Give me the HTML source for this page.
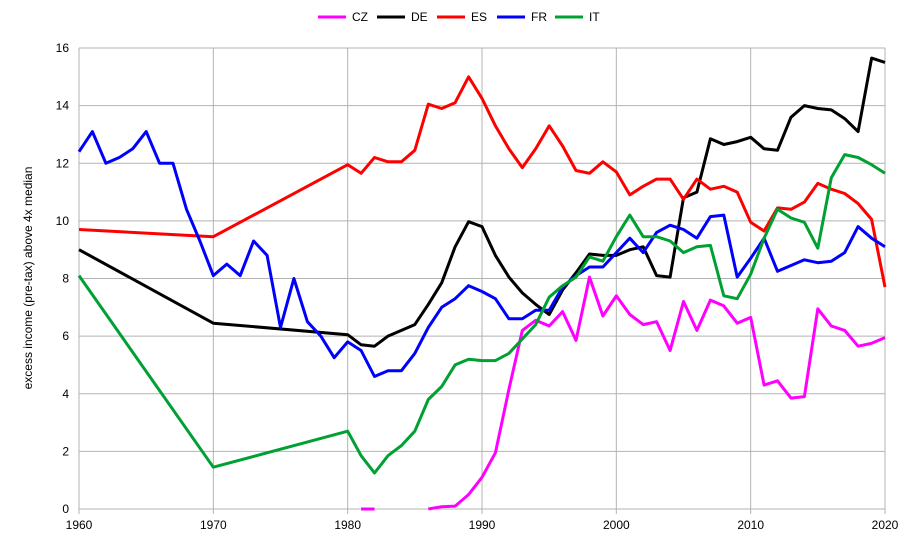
<!DOCTYPE html>
<html><head><meta charset="utf-8"><style>
body{margin:0;background:#fff;font-family:"Liberation Sans",sans-serif}
svg text{font-family:"Liberation Sans",sans-serif;fill:#000}
</style></head><body>
<svg id="chart" width="918" height="545" xmlns="http://www.w3.org/2000/svg">
<g id="grid"></g>
<g id="series"></g>
<g id="legend"></g>
<text transform="translate(32,278) rotate(-90)" text-anchor="middle" font-size="12">excess income (pre-tax) above 4x median</text>
</svg>
<script>
const years = [1960,1961,1962,1963,1964,1965,1966,1967,1968,1969,1970,1971,1972,1973,1974,1975,1976,1977,1978,1979,1980,1981,1982,1983,1984,1985,1986,1987,1988,1989,1990,1991,1992,1993,1994,1995,1996,1997,1998,1999,2000,2001,2002,2003,2004,2005,2006,2007,2008,2009,2010,2011,2012,2013,2014,2015,2016,2017,2018,2019,2020];
const N=null;
const cz = [N,N,N,N,N,N,N,N,N,N,N,N,N,N,N,N,N,N,N,N,N,0,0,N,N,N,0,0.08,0.1,0.5,1.1,1.95,4.15,6.2,6.55,6.35,6.85,5.85,8.05,6.7,7.4,6.75,6.4,6.5,5.5,7.2,6.2,7.25,7.05,6.45,6.65,4.3,4.45,3.85,3.9,6.95,6.35,6.2,5.65,5.75,5.95];
const de = [9.0,N,N,N,N,N,N,N,N,N,6.45,N,N,N,N,N,N,N,N,N,6.05,5.7,5.65,6.0,6.2,6.4,7.1,7.85,9.1,9.97,9.8,8.8,8.05,7.5,7.1,6.75,7.6,8.2,8.85,8.8,8.8,9.0,9.1,8.1,8.05,10.8,11.0,12.85,12.65,12.75,12.9,12.5,12.45,13.6,14.0,13.9,13.85,13.55,13.1,15.65,15.5];
const es = [9.7,N,N,N,N,N,N,N,N,N,9.45,N,N,N,N,N,N,N,N,N,11.95,11.65,12.2,12.05,12.05,12.45,14.05,13.9,14.1,15.0,14.25,13.3,12.5,11.85,12.5,13.3,12.6,11.75,11.65,12.05,11.7,10.9,11.2,11.45,11.45,10.75,11.45,11.1,11.2,11.0,9.95,9.65,10.45,10.4,10.65,11.3,11.1,10.95,10.6,10.05,7.7];
const fr = [12.4,13.1,12.0,12.2,12.5,13.1,12.0,12.0,10.4,9.3,8.1,8.5,8.1,9.3,8.8,6.3,8.0,6.5,6.0,5.25,5.8,5.5,4.6,4.8,4.8,5.4,6.3,7.0,7.3,7.75,7.55,7.3,6.6,6.6,6.9,6.9,7.7,8.1,8.4,8.4,8.9,9.4,8.9,9.6,9.85,9.7,9.4,10.15,10.2,8.05,8.7,9.4,8.25,8.45,8.65,8.55,8.6,8.9,9.8,9.4,9.1];
const it = [8.1,N,N,N,N,N,N,N,N,N,1.45,N,N,N,N,N,N,N,N,N,2.7,1.85,1.25,1.85,2.2,2.7,3.8,4.25,5.0,5.2,5.15,5.15,5.4,5.9,6.4,7.35,7.75,8.05,8.75,8.6,9.45,10.2,9.45,9.45,9.3,8.9,9.1,9.15,7.4,7.3,8.15,9.4,10.4,10.1,9.95,9.05,11.5,12.3,12.2,11.95,11.65];
const yTicks=[0,2,4,6,8,10,12,14,16];
const xTicks=[1960,1970,1980,1990,2000,2010,2020];
const names=["CZ","DE","ES","FR","IT"];
const colors=["#ff00ff","#000000","#ff0000","#0000ff","#00a033"];
const NS="http://www.w3.org/2000/svg";
const X0=79,X1=885,Y0=509,Y1=48;
const xs=y=>X0+(y-1960)/60*(X1-X0);
const ys=v=>Y0-v/16*(Y0-Y1);
function mk(t,a,p){const e=document.createElementNS(NS,t);for(const k in a)e.setAttribute(k,a[k]);p.appendChild(e);return e;}
const grid=document.getElementById('grid');
yTicks.forEach(v=>{
 const l=mk('line',{x1:X0,x2:X1,y1:ys(v),y2:ys(v),stroke:'#b3b3b3','stroke-width':1},grid);
 
 
 const t=mk('text',{x:X0-10,y:ys(v)+4,'text-anchor':'end','font-size':12},grid);t.textContent=v;
 
 
});
xTicks.forEach(v=>{
 const l=mk('line',{x1:xs(v),x2:xs(v),y1:Y1,y2:Y0+5,stroke:'#b3b3b3','stroke-width':1},grid);
 
 
 const t=mk('text',{x:xs(v),y:Y0+20,'text-anchor':'middle','font-size':12},grid);t.textContent=v;
 
 
});
const ser=document.getElementById('series');
[cz,de,es,fr,it].forEach((arr,i)=>{
 // connect across nulls except CZ gap (CZ gaps break)
 let d='',pen=false;
 arr.forEach((v,j)=>{
  if(v===null){ if(i===0) pen=false; return;}
  d+=(pen?'L':'M')+xs(years[j]).toFixed(1)+' '+ys(v).toFixed(1)+' ';pen=true;
 });
 const p=mk('path',{d:d,fill:'none',stroke:colors[i],'stroke-width':3,'stroke-linejoin':'round'},ser);
 
 
});
const leg=document.getElementById('legend');
const lx=[318,377,437,497,555];
names.forEach((n,i)=>{
 const g=mk('g',{},leg);
 
 
 mk('line',{x1:lx[i],x2:lx[i]+28,y1:17,y2:17,stroke:colors[i],'stroke-width':3},g);
 const t=mk('text',{x:lx[i]+34,y:21,'font-size':12},g);t.textContent=n;
});
</script>
</body></html>
